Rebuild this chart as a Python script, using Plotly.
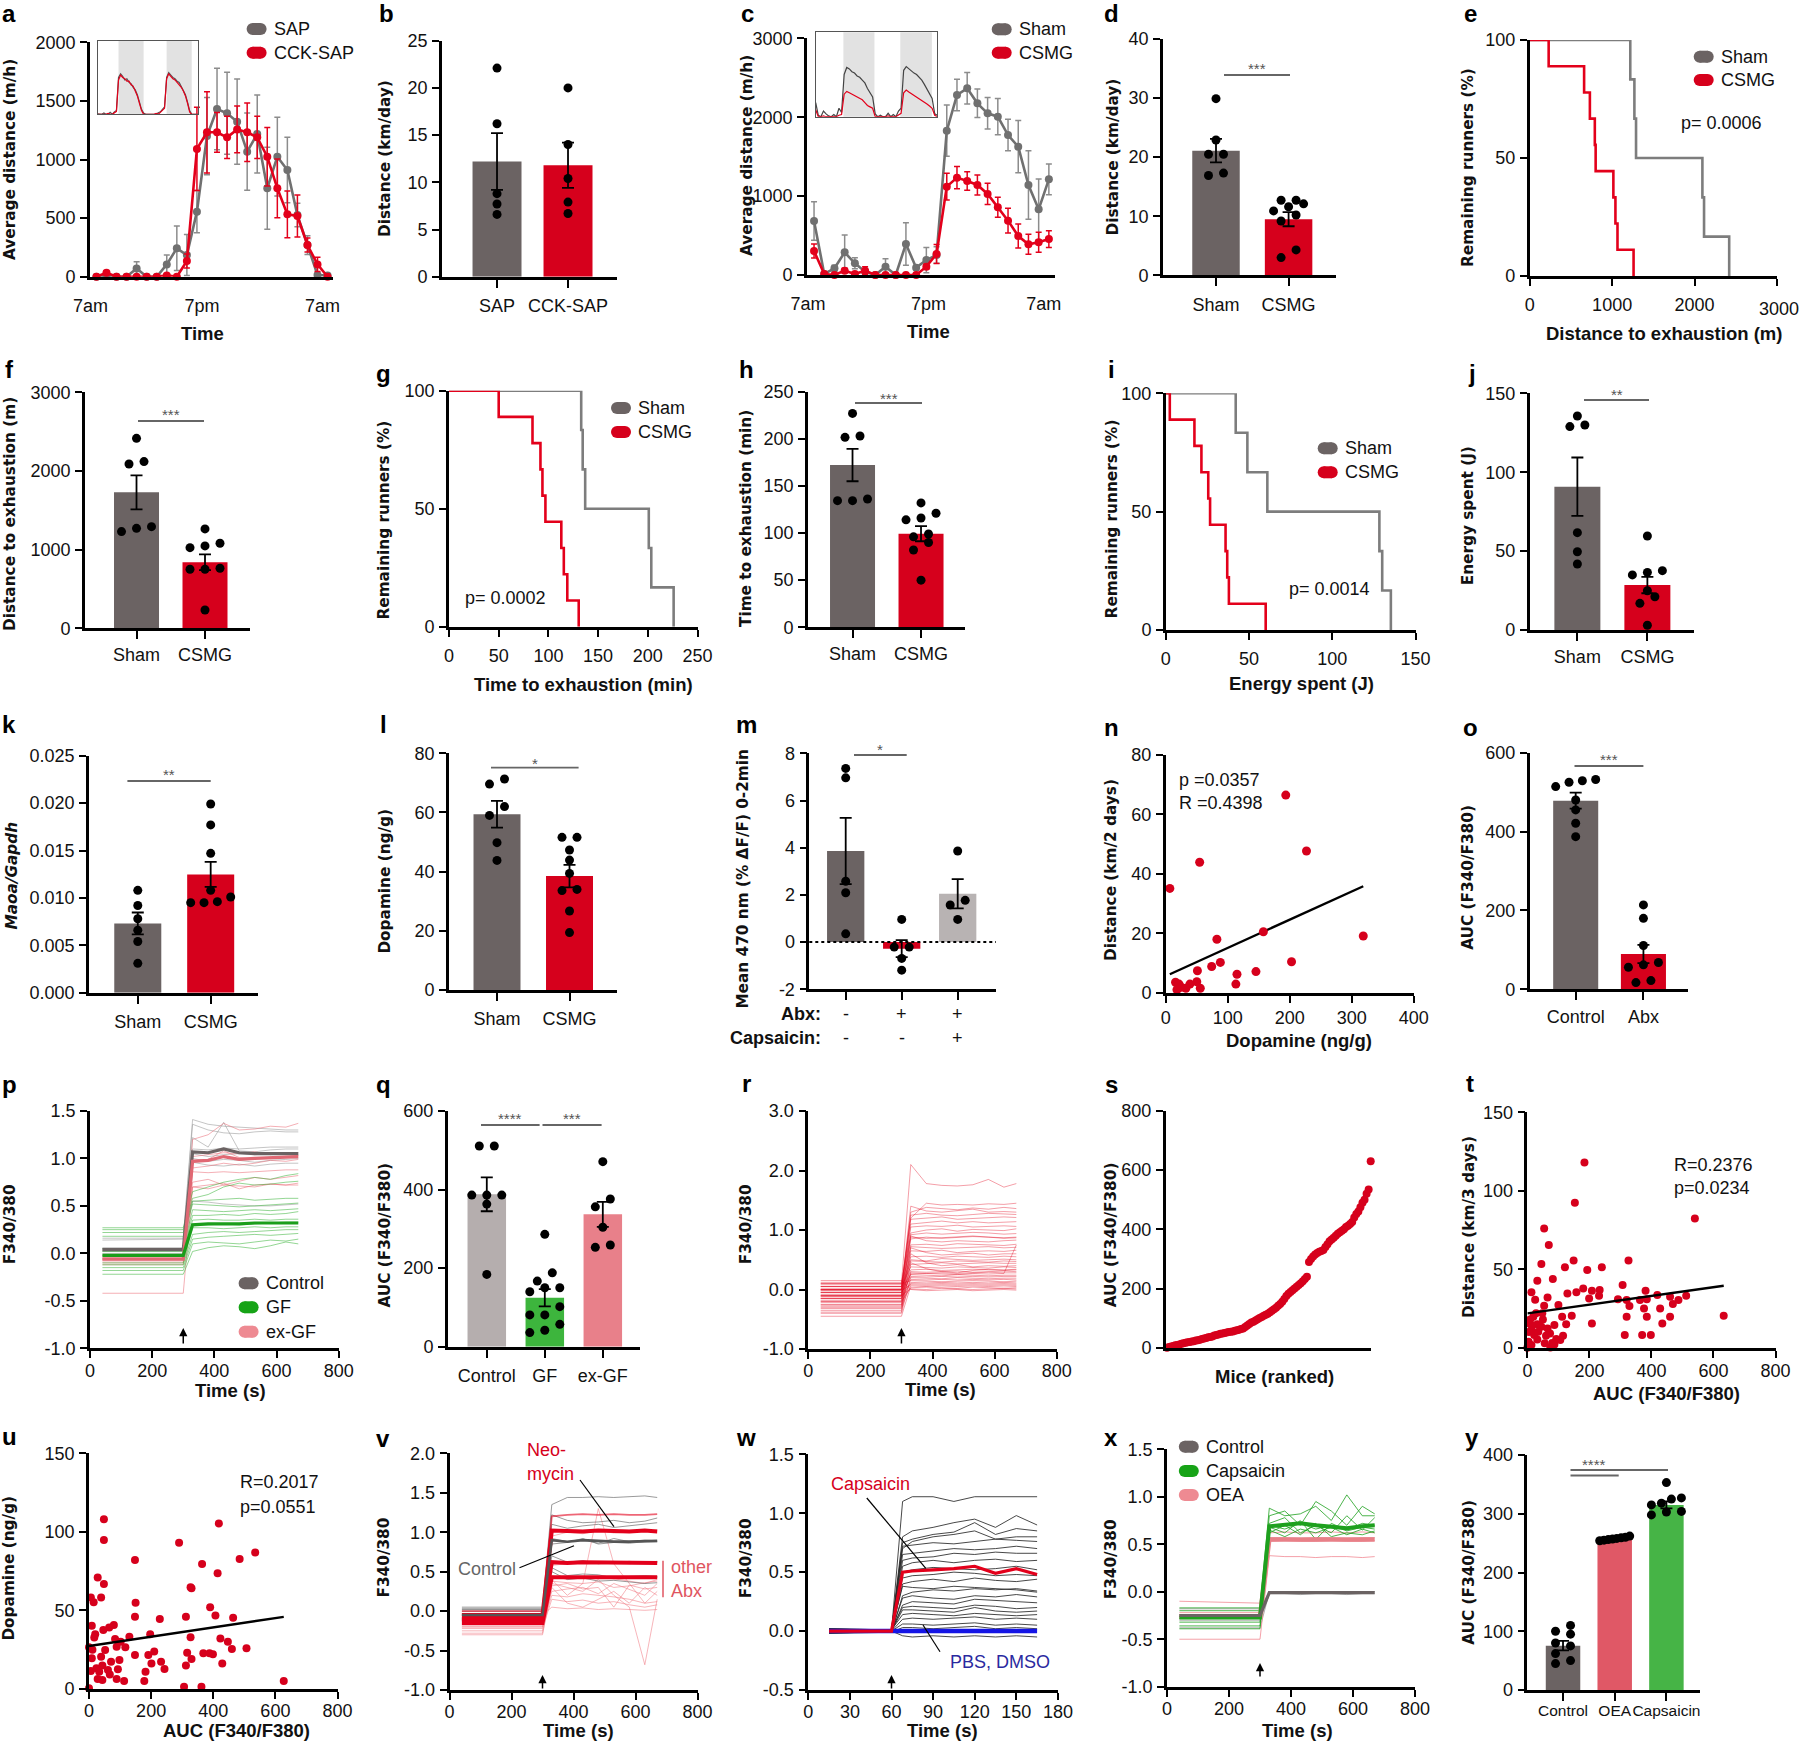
import plotly.graph_objects as go

W, H = 1800, 1742

# ============================ DATA ============================
HOURS = list(range(24))
# (a) SAP vs CCK-SAP hourly distance (m/h)
SAP_MEAN = [0, 5, 0, 0, 71, 0, 0, 105, 242, 185, 555, 1200, 1431, 1394, 1323, 1067, 1218, 754, 1024, 910, 526, 270, 14, 11]
SAP_SEM = [0, 5, 0, 0, 57, 0, 0, 80, 190, 175, 180, 330, 347, 350, 363, 330, 333, 350, 336, 279, 100, 80, 10, 10]
CCK_MEAN = [0, 34, 0, 0, 0, 0, 0, 11, 0, 134, 1090, 1232, 1232, 1189, 1257, 1232, 1189, 1024, 754, 532, 518, 270, 105, 0]
CCK_SEM = [0, 15, 0, 0, 0, 0, 0, 10, 0, 60, 355, 347, 170, 180, 200, 250, 180, 250, 250, 200, 180, 60, 60, 0]
INSET_HOURS_A = list(range(49))
A_INSET_SAP = [20, 0, 0, 50, 0, 0, 80, 0, 100, 150, 1500, 1650, 1550, 1400, 1450, 1300, 1250, 1100, 1000, 800, 500, 200,
               50, 0, 0, 0, 30, 0, 0, 60, 100, 200, 300, 1500, 1700, 1600, 1500, 1450, 1350, 1300, 1150, 1000, 800, 500, 150,
               0, 0, 0, 0]
A_INSET_CCK = [0, 0, 30, 0, 0, 40, 0, 0, 60, 120, 1400, 1600, 1500, 1450, 1350, 1350, 1200, 1150, 950, 750, 450, 150,
               0, 0, 20, 0, 0, 0, 40, 0, 80, 150, 250, 1450, 1650, 1550, 1450, 1400, 1300, 1200, 1100, 950, 750, 450, 100,
               0, 0, 0, 0]
# (b)
B_CATS = ["SAP", "CCK-SAP"]
B_MEAN = [12.2, 11.8]
B_SEM = [3.0, 2.4]
B_DOTS = [[22.1, 16.2, 8.8, 7.7, 6.6], [20.0, 14.0, 10.4, 7.9, 6.7]]
# (c) Sham vs CSMG hourly
SHAM_MEAN = [684, 13, 85, 287, 148, 42, 0, 106, 0, 393, 93, 190, 253, 1829, 2281, 2366, 2176, 2049, 2007, 1774, 1627, 1141, 832, 1212]
SHAM_SEM = [245, 10, 40, 220, 70, 10, 0, 100, 0, 270, 10, 160, 105, 325, 200, 200, 180, 200, 230, 200, 330, 435, 385, 195]
CSMG_MEAN = [304, 13, 0, 55, 13, 55, 0, 0, 0, 0, 0, 106, 266, 1120, 1234, 1191, 1141, 1027, 858, 689, 494, 389, 414, 456]
CSMG_SEM = [90, 5, 0, 30, 10, 50, 0, 0, 0, 0, 0, 30, 120, 170, 140, 118, 127, 135, 127, 156, 152, 127, 127, 106]
INSET_HOURS_C = list(range(48))
C_INSET_SHAM = [500, 50, 0, 200, 100, 30, 0, 80, 0, 300, 150, 1500, 1750, 1700, 1600, 1550, 1450, 1400, 1300, 1200, 1000, 850, 700,
                100, 0, 50, 0, 0, 120, 0, 80, 0, 200, 300, 1650, 1780, 1700, 1600, 1550, 1500, 1400, 1300, 1150, 1000, 800, 650,
                100, 50]
C_INSET_CSMG = [250, 0, 0, 30, 0, 0, 0, 0, 0, 50, 80, 800, 900, 850, 800, 750, 700, 650, 600, 500, 400, 350, 300,
                0, 0, 0, 0, 0, 30, 0, 0, 0, 60, 120, 850, 950, 880, 820, 780, 720, 650, 600, 520, 450, 380, 300,
                50, 0]
SC_CATS = ["Sham", "CSMG"]
# (d)
D_MEAN = [21.1, 9.5]
D_SEM = [2.0, 1.2]
D_DOTS = [[29.9, 22.9, 20.5, 20.5, 17.3, 16.9], [12.7, 12.7, 12.1, 11.6, 10.9, 10.2, 9.2, 4.3, 3.0]]
# (e) distance to exhaustion (m) events
E_SHAM = [1220, 1270, 1290, 2095, 2115, 2420]
E_CSMG = [230, 660, 730, 790, 800, 1015, 1040, 1065, 1260]
# (f)
F_MEAN = [1729, 839]
F_SEM = [216, 100]
F_DOTS = [[2415, 2119, 2089, 1292, 1271, 1229], [1263, 1081, 1047, 1025, 763, 750, 750, 233]]
# (g) time to exhaustion (min) events
G_SHAM = [133, 134.5, 137, 201, 203.5, 226]
G_CSMG = [50, 84, 92, 94, 97, 113, 115.5, 119, 130.5]
# (h)
H_MEAN = [172.2, 99.3]
H_SEM = [17.2, 8.0]
H_DOTS = [[227, 203, 201.6, 136.1, 134.4, 134.4], [132, 121, 116, 114, 99, 96, 90, 82, 50]]
# (i) energy spent (J) events
I_SHAM = [42, 49, 61, 128.3, 130, 135.2]
I_CSMG = [2.4, 17.2, 21.4, 25.5, 26.6, 35.9, 36.9, 37.9, 60]
# (j)
J_MEAN = [90.8, 28.5]
J_SEM = [18.5, 5.2]
J_DOTS = [[135.6, 129.9, 128.9, 61.7, 49.6, 41.8], [59.6, 37.6, 36.5, 34.9, 24.9, 21.1, 16.9, 3.0]]
# (k)
K_MEAN = [0.00731, 0.01248]
K_SEM = [0.00115, 0.00132]
K_DOTS = [[0.0108, 0.0092, 0.0078, 0.0066, 0.0054, 0.0031],
          [0.0199, 0.0177, 0.0147, 0.0108, 0.0101, 0.0096, 0.0095, 0.0095]]
# (l)
L_MEAN = [59.4, 38.5]
L_SEM = [4.5, 3.8]
L_DOTS = [[71.3, 69.6, 62.0, 59.0, 49.8, 43.8], [51.6, 51.6, 47.3, 43.9, 39.4, 34.0, 33.6, 26.7, 19.4]]
# (m)
M_MEAN = [3.86, -0.28, 2.05]
M_SEM = [1.40, 0.36, 0.62]
M_DOTS = [[7.36, 6.96, 2.58, 2.09, 0.35], [0.96, -0.21, -0.21, -0.69, -1.19], [3.86, 1.77, 1.57, 0.96]]
M_ABX = ["-", "+", "+"]
M_CAPS = ["-", "-", "+"]
# (n)
N_DOPA = [6.5, 193.5, 54.6, 226.9, 157.4, 82.4, 318.5, 88, 74, 51, 202.8, 114.8, 145.4, 113, 50, 38.9, 15.7, 21.3, 25, 32.4, 55.6, 18]
N_DIST = [35.1, 66.5, 43.9, 47.7, 20.5, 18.0, 19.1, 10.2, 8.8, 7.4, 10.4, 6.2, 7.1, 2.9, 3.7, 2.9, 3.5, 2.9, 1.8, 1.5, 1.5, 1.0]
N_FIT = (0.0949, 5.6)
# (o)
O_CATS = ["Control", "Abx"]
O_MEAN = [478.3, 89.6]
O_SEM = [20.3, 23.0]
O_DOTS = [[532, 529, 525, 514, 480, 455, 421, 387], [214, 180, 111, 68, 62, 56, 22, 17]]
# calcium imaging time grid
TIME_S = [40, 300, 330, 380, 430, 480, 530, 580, 630, 670]
# (p)
P_CTRL = [[0.16, 0.16, 1.41, 1.36, 1.34, 1.33, 1.32, 1.31, 1.30, 1.30],
          [0.14, 0.15, 1.36, 1.30, 1.27, 1.26, 1.28, 1.29, 1.28, 1.28],
          [0.05, 0.05, 1.22, 1.12, 1.38, 1.08, 1.07, 1.09, 1.10, 1.10],
          [0.04, 0.04, 1.10, 1.09, 1.11, 1.10, 1.11, 1.12, 1.12, 1.12],
          [0.02, 0.03, 1.05, 1.02, 1.04, 1.05, 1.04, 1.05, 1.04, 1.04],
          [0.00, 0.00, 0.96, 0.93, 0.92, 0.94, 0.92, 0.94, 0.95, 0.95],
          [0.06, 0.06, 0.55, 0.54, 0.52, 0.51, 0.50, 0.50, 0.51, 0.52],
          [0.03, 0.03, 1.00, 0.97, 0.99, 0.98, 0.96, 0.98, 0.99, 1.00]]
P_CTRL_MEAN = [0.04, 0.04, 1.07, 1.06, 1.10, 1.06, 1.05, 1.05, 1.05, 1.05]
P_GF = [[0.27, 0.27, 0.65, 0.70, 0.75, 0.78, 0.80, 0.78, 0.82, 0.84],
        [0.25, 0.25, 0.58, 0.62, 0.70, 0.74, 0.72, 0.73, 0.75, 0.76],
        [0.22, 0.22, 0.55, 0.56, 0.57, 0.58, 0.56, 0.57, 0.58, 0.58],
        [0.18, 0.18, 0.52, 0.51, 0.50, 0.49, 0.50, 0.51, 0.52, 0.53],
        [0.05, 0.05, 0.46, 0.45, 0.44, 0.45, 0.46, 0.45, 0.46, 0.47],
        [0.02, 0.02, 0.40, 0.40, 0.41, 0.40, 0.42, 0.41, 0.42, 0.44],
        [-0.02, -0.02, 0.35, 0.36, 0.35, 0.35, 0.36, 0.35, 0.36, 0.36],
        [-0.06, -0.06, 0.30, 0.30, 0.31, 0.30, 0.31, 0.32, 0.33, 0.33],
        [-0.10, -0.10, 0.27, 0.27, 0.26, 0.27, 0.28, 0.27, 0.28, 0.28],
        [-0.12, -0.12, 0.20, 0.22, 0.23, 0.22, 0.23, 0.24, 0.25, 0.25],
        [-0.15, -0.15, 0.15, 0.17, 0.18, 0.19, 0.20, 0.19, 0.20, 0.21],
        [-0.18, -0.18, 0.10, 0.12, 0.11, 0.10, 0.12, 0.14, 0.13, 0.15],
        [-0.22, -0.22, 0.02, 0.06, 0.08, 0.07, 0.05, 0.08, 0.12, 0.10]]
P_GF_MEAN = [-0.02, -0.02, 0.30, 0.31, 0.31, 0.31, 0.32, 0.32, 0.32, 0.32]
P_EXGF = [[-0.02, -0.02, 1.20, 1.25, 1.37, 1.30, 1.31, 1.34, 1.33, 1.37],
          [-0.04, -0.04, 1.02, 1.04, 1.06, 1.05, 1.07, 1.04, 1.06, 1.06],
          [-0.05, -0.06, 0.98, 0.99, 1.08, 1.01, 1.00, 1.01, 1.02, 1.03],
          [-0.08, -0.08, 0.90, 0.92, 0.95, 0.93, 0.95, 0.98, 0.97, 0.99],
          [-0.10, -0.10, 0.86, 0.85, 0.86, 0.85, 0.86, 0.87, 0.88, 0.88],
          [-0.06, -0.06, 0.75, 0.78, 0.72, 0.76, 0.80, 0.78, 0.80, 0.82],
          [-0.12, -0.12, 0.70, 0.72, 0.74, 0.68, 0.72, 0.73, 0.72, 0.72],
          [-0.42, -0.42, 0.70, 0.68, 0.72, 0.71, 0.70, 0.73, 0.72, 0.74]]
P_EXGF_MEAN = [-0.06, -0.06, 0.97, 0.98, 1.02, 0.99, 1.00, 1.01, 1.02, 1.02]
# (q)
Q_CATS = ["Control", "GF", "ex-GF"]
Q_MEAN = [387.8, 124.8, 336.9]
Q_SEM = [43, 22, 32]
Q_DOTS = [[511, 511, 386, 386, 386, 363, 184], [286, 188, 167, 150, 150, 140, 102, 81, 81, 57, 42, 36],
          [471, 376, 356, 304, 259, 253]]
# (r)
R_LINES = [[0.10, 0.10, 2.10, 1.78, 1.75, 1.74, 1.76, 1.85, 1.72, 1.78],
           [0.05, 0.05, 1.20, 1.45, 1.42, 1.43, 1.42, 1.44, 1.43, 1.45],
           [0.02, 0.02, 1.30, 1.38, 1.36, 1.34, 1.37, 1.35, 1.38, 1.36],
           [0.00, 0.00, 1.40, 1.32, 1.30, 1.33, 1.35, 1.30, 1.31, 1.30],
           [-0.05, -0.05, 1.25, 1.28, 1.25, 1.24, 1.26, 1.28, 1.27, 1.26],
           [0.08, 0.08, 1.18, 1.20, 1.22, 1.18, 1.19, 1.20, 1.22, 1.21],
           [-0.10, -0.10, 1.10, 1.12, 1.15, 1.12, 1.14, 1.12, 1.13, 1.14],
           [0.00, 0.00, 1.05, 1.07, 1.06, 1.08, 1.05, 1.06, 1.07, 1.06],
           [-0.15, -0.15, 0.95, 1.00, 1.02, 0.98, 1.01, 1.00, 0.99, 1.02],
           [0.12, 0.12, 0.92, 0.95, 0.93, 0.94, 0.96, 0.95, 0.93, 0.94],
           [-0.20, -0.20, 0.85, 0.88, 0.86, 0.87, 0.89, 0.88, 0.86, 0.87],
           [-0.05, -0.05, 0.90, 0.82, 0.80, 0.82, 0.81, 0.80, 0.82, 0.83],
           [-0.25, -0.25, 0.75, 0.76, 0.74, 0.77, 0.76, 0.75, 0.74, 0.76],
           [0.05, 0.05, 0.72, 0.70, 0.69, 0.70, 0.71, 0.72, 0.70, 0.71],
           [-0.10, -0.10, 0.65, 0.64, 0.66, 0.62, 0.64, 0.65, 0.64, 0.66],
           [-0.30, -0.30, 0.70, 0.62, 0.58, 0.60, 0.61, 0.58, 0.60, 0.60],
           [0.00, 0.00, 0.55, 0.56, 0.54, 0.56, 0.55, 0.54, 0.56, 0.55],
           [-0.12, -0.12, 0.50, 0.48, 0.52, 0.50, 0.49, 0.50, 0.51, 0.50],
           [-0.18, -0.18, 0.42, 0.44, 0.45, 0.43, 0.44, 0.45, 0.44, 0.44],
           [-0.35, -0.35, 0.60, 0.45, 0.40, 0.42, 0.38, 0.40, 0.39, 0.40],
           [0.05, 0.05, 0.38, 0.37, 0.36, 0.38, 0.37, 0.36, 0.38, 0.37],
           [-0.08, -0.08, 0.33, 0.34, 0.32, 0.33, 0.34, 0.33, 0.32, 0.33],
           [-0.22, -0.22, 0.30, 0.29, 0.30, 0.31, 0.29, 0.30, 0.31, 0.30],
           [-0.15, -0.15, 0.26, 0.27, 0.26, 0.25, 0.27, 0.26, 0.27, 0.75],
           [0.00, 0.00, 0.25, 0.24, 0.23, 0.25, 0.24, 0.23, 0.24, 0.24],
           [-0.40, -0.40, 0.22, 0.21, 0.22, 0.21, 0.22, 0.21, 0.22, 0.22],
           [-0.05, -0.05, 0.20, 0.19, 0.18, 0.20, 0.19, 0.18, 0.19, 0.19],
           [-0.28, -0.28, 0.17, 0.16, 0.17, 0.16, 0.17, 0.16, 0.17, 0.16],
           [0.10, 0.10, 0.15, 0.14, 0.13, 0.14, 0.15, 0.14, 0.13, 0.14],
           [-0.15, -0.15, 0.12, 0.11, 0.12, 0.11, 0.12, 0.11, 0.12, 0.11],
           [-0.32, -0.32, 0.10, 0.09, 0.10, 0.09, 0.10, 0.09, 0.10, 0.09],
           [-0.02, -0.02, 0.08, 0.07, 0.08, 0.07, 0.08, 0.07, 0.08, 0.07],
           [-0.45, -0.45, 0.06, 0.05, 0.06, 0.05, 0.06, 0.05, 0.06, 0.05],
           [-0.20, -0.20, 0.03, 0.04, 0.03, 0.02, 0.04, 0.03, 0.02, 0.03],
           [-0.10, -0.10, 0.01, 0.00, 0.02, 0.01, 0.00, 0.01, 0.02, 0.01],
           [0.15, 0.15, 0.00, -0.02, -0.01, 0.00, -0.02, -0.01, 0.00, -0.01],
           [-0.38, -0.38, 0.45, 0.35, 0.30, 0.28, 0.32, 0.34, 0.33, 0.34],
           [-0.02, -0.02, 0.48, 0.47, 0.46, 0.48, 0.47, 0.46, 0.48, 0.47],
           [-0.12, -0.12, 0.88, 0.86, 0.87, 0.88, 0.90, 0.88, 0.87, 0.88],
           [-0.26, -0.26, 0.28, 0.27, 0.28, 0.27, 0.28, 0.29, 0.28, 0.28]]
# (s) ranked AUC
S_AUC = [0, 2, 4, 6, 8, 9, 11, 13, 15, 17, 18, 19, 21, 22, 24, 25, 27, 29, 31, 33, 35, 36, 38, 41, 43, 45, 47, 48,
         50, 51, 53, 54, 55, 57, 59, 61, 63, 65, 70, 75, 80, 85, 88, 92, 96, 100, 104, 108, 111, 115, 120, 125, 130,
         135, 142, 148, 155, 165, 175, 182, 188, 194, 200, 206, 212, 218, 225, 232, 240, 290, 300, 308, 315, 320, 324,
         327, 330, 340, 350, 360, 366, 372, 378, 385, 390, 395, 400, 408, 412, 418, 425, 440, 452, 460, 475, 490, 500,
         520, 535, 630]
# (t)
T_AUC = [184, 153, 540, 54, 69, 326, 149, 45, 121, 240, 193, 32, 82, 307, 65, 13, 129, 158, 180, 208, 233, 199, 231,
         292, 320, 363, 381, 385, 419, 460, 487, 512, 469, 428, 376, 329, 320, 385, 460, 435, 208, 314, 370, 398, 633,
         54, 100, 143, 112, 125, 115, 93, 87, 56, 32, 22, 0, 4, 13, 7, 19, 32, 45, 65, 87, 35, 60, 13, 74, 28, 9, 50,
         73, 106, 25, 5, 48, 80, 15]
T_DIST = [118, 92.4, 82.4, 76, 65.4, 55.5, 55.5, 53.3, 51.2, 51.2, 49.5, 42.7, 43.8, 40, 32, 35.3, 34.6, 35.3, 37.8,
          36.3, 36.8, 31.4, 33.1, 30.8, 30.4, 30.4, 36.3, 30.8, 33.6, 32.5, 30.4, 33.1, 27.8, 25, 25, 26.6, 19.8, 19.8,
          19.8, 15.5, 15.5, 8.1, 8.1, 8.1, 20.4, 26.8, 27.2, 20.4, 19.8, 14.9, 7.6, 5.5, 2.1, 2.8, 5.3, 8.1, 0, 3.8,
          11.3, 15.5, 19.8, 15, 13.4, 12.3, 14.4, 10.2, 7.6, 1.7, 0.2, 21.9, 18, 18, 9.1, 4.9, 30.5, 10, 22, 3, 14]
T_FIT = (0.0277, 21.9)
# (u)
U_AUC = [48, 48, 418, 290, 535, 485, 148, 364, 414, 28, 48, 327, 330, 6, 39, 15, 150, 390, 148, 312, 228, 464, 407, 9,
         80, 65, 46, 20, 197, 327, 423, 447, 17, 84, 130, 102, 117, 0, 11, 52, 89, 210, 316, 368, 388, 399, 460, 507,
         9, 39, 71, 98, 148, 191, 232, 330, 201, 312, 243, 429, 24, 43, 61, 93, 28, 43, 89, 113, 182, 178, 306, 362,
         627, 0, 33, 67, 6]
U_DOPA = [108, 94.8, 105.4, 93.1, 86.8, 82.7, 82.1, 79.6, 73.6, 70.9, 66.8, 64.7, 64.1, 58.3, 58.3, 55.2, 54.9, 52,
          46, 46, 44.6, 45.4, 46.7, 40.3, 40.7, 39.2, 37.6, 34.8, 34.8, 32.9, 32.2, 30.1, 32.7, 31.8, 33.3, 30.1, 26.5,
          26.5, 25, 24.8, 26.9, 23.8, 23.1, 22.7, 22.7, 22.1, 25.5, 25.9, 19.5, 20.6, 17.4, 18.5, 21.6, 21.6, 17.4,
          19.1, 16.3, 14.9, 12.7, 16.3, 13.2, 14.9, 12.1, 12.5, 6.4, 5.7, 6.4, 5.1, 11, 5.1, 1.5, 1.5, 5.1, 0.4, 11,
          9.3, 11.5]
U_FIT = (0.0295, 27.4)
# (v)
V_PINK = [[-0.20, -0.20, 0.35, 0.30, 0.25, 0.40, 0.20, 0.05, -0.68, 0.15],
          [-0.25, -0.25, 0.40, 0.20, 0.35, 1.30, 0.60, 0.35, 0.10, 0.25],
          [-0.30, -0.30, 0.30, 0.10, 0.05, 0.15, 0.25, 0.10, 0.30, 0.20],
          [-0.12, -0.12, 0.25, 0.28, 0.30, 0.22, 0.35, 0.28, 0.20, 0.35],
          [-0.18, -0.18, 0.20, 0.18, 0.22, 0.20, 0.18, 0.15, 0.10, 0.12],
          [-0.08, -0.08, 0.38, 0.36, 0.35, 0.37, 0.30, 0.32, 0.36, 0.38],
          [-0.22, -0.22, 0.15, 0.12, 0.14, 0.10, 0.12, 0.08, 0.05, 0.08],
          [-0.05, -0.05, 0.05, 0.03, 0.04, 0.02, 0.03, 0.02, 0.01, 0.02],
          [-0.28, -0.28, 0.32, 0.35, 0.28, 0.30, 0.05, 0.33, 0.28, 0.30],
          [-0.15, -0.15, 0.58, 0.60, 0.63, 0.61, 0.62, 0.60, 0.62, 0.63],
          [-0.10, -0.10, 0.95, 1.00, 0.98, 1.02, 0.99, 1.00, 1.01, 1.03],
          [-0.20, -0.20, 0.45, 0.40, 0.42, 0.44, 0.41, 0.38, 0.35, 0.40]]
V_GRAY = [[0.05, 0.05, 1.35, 1.44, 1.44, 1.45, 1.44, 1.45, 1.46, 1.44],
          [0.02, 0.02, 1.22, 1.15, 1.12, 1.13, 1.15, 1.12, 1.14, 1.18],
          [0.00, 0.00, 1.10, 1.05, 1.08, 1.10, 1.06, 1.08, 1.10, 1.12],
          [-0.03, -0.03, 0.92, 0.88, 0.90, 0.86, 0.92, 0.88, 0.90, 0.89],
          [-0.05, -0.05, 0.85, 0.87, 0.92, 0.85, 0.87, 0.86, 0.88, 0.88],
          [-0.08, -0.08, 0.70, 0.62, 0.64, 0.60, 0.62, 0.63, 0.62, 0.63],
          [-0.10, -0.10, 0.55, 0.45, 0.47, 0.46, 0.42, 0.44, 0.45, 0.44],
          [0.03, 0.03, 0.50, 0.40, 0.42, 0.38, 0.39, 0.37, 0.35, 0.36]]
V_GRAY_MID = [[-0.10, -0.10, 0.62, 0.61, 0.62, 0.61, 0.62, 0.61, 0.62, 0.62],
              [-0.12, -0.12, 0.43, 0.42, 0.43, 0.42, 0.43, 0.42, 0.43, 0.43]]
V_RED = [[-0.05, -0.05, 1.02, 1.01, 1.01, 1.02, 1.01, 1.01, 1.02, 1.01],
         [-0.10, -0.10, 0.62, 0.61, 0.62, 0.62, 0.61, 0.62, 0.62, 0.61],
         [-0.15, -0.15, 0.43, 0.43, 0.44, 0.43, 0.43, 0.44, 0.43, 0.43]]
V_RED_MID = [0.00, 0.00, 1.20, 1.22, 1.23, 1.22, 1.23, 1.22, 1.22, 1.23]
V_CTRL = [-0.05, -0.05, 0.90, 0.88, 0.90, 0.89, 0.88, 0.88, 0.89, 0.89]
# (w)
TIME_W = [15, 60, 68, 75, 90, 105, 120, 135, 150, 165]
W_LINES = [[0.01, 0.00, 1.10, 1.14, 1.14, 1.10, 1.14, 1.14, 1.14, 1.14],
           [0.02, 0.01, 0.80, 0.85, 0.88, 0.92, 0.95, 0.88, 0.98, 0.90],
           [-0.01, 0.00, 0.75, 0.78, 0.82, 0.84, 0.92, 0.82, 0.87, 0.85],
           [0.00, 0.01, 0.70, 0.76, 0.80, 0.82, 0.85, 0.78, 0.80, 0.80],
           [0.01, 0.00, 0.72, 0.73, 0.75, 0.74, 0.76, 0.78, 0.77, 0.76],
           [-0.02, -0.01, 0.65, 0.66, 0.68, 0.70, 0.69, 0.70, 0.72, 0.70],
           [0.00, 0.00, 0.60, 0.62, 0.63, 0.66, 0.65, 0.67, 0.66, 0.66],
           [0.01, 0.01, 0.55, 0.58, 0.60, 0.58, 0.60, 0.61, 0.59, 0.60],
           [0.00, -0.01, 0.50, 0.52, 0.54, 0.53, 0.52, 0.53, 0.55, 0.52],
           [-0.01, 0.00, 0.45, 0.47, 0.48, 0.50, 0.49, 0.47, 0.48, 0.47],
           [0.02, 0.00, 0.40, 0.42, 0.44, 0.42, 0.45, 0.43, 0.42, 0.44],
           [0.00, 0.01, 0.38, 0.37, 0.36, 0.38, 0.37, 0.36, 0.35, 0.33],
           [-0.01, -0.01, 0.30, 0.33, 0.35, 0.34, 0.36, 0.35, 0.36, 0.34],
           [0.01, 0.00, 0.28, 0.30, 0.28, 0.27, 0.30, 0.29, 0.31, 0.29],
           [0.00, 0.00, 0.22, 0.25, 0.24, 0.23, 0.27, 0.26, 0.25, 0.24],
           [0.02, 0.01, 0.20, 0.21, 0.20, 0.19, 0.22, 0.21, 0.19, 0.20],
           [-0.02, 0.00, 0.18, 0.18, 0.17, 0.16, 0.20, 0.17, 0.16, 0.17],
           [0.00, 0.01, 0.14, 0.15, 0.14, 0.13, 0.15, 0.14, 0.13, 0.14],
           [0.01, 0.00, 0.10, 0.11, 0.10, 0.11, 0.12, 0.10, 0.11, 0.10],
           [-0.01, 0.00, 0.06, 0.06, 0.05, 0.06, 0.07, 0.05, 0.06, 0.05],
           [0.00, -0.01, 0.03, 0.03, 0.02, 0.03, 0.04, 0.02, 0.03, 0.02],
           [0.01, 0.00, -0.04, -0.05, -0.04, -0.05, -0.04, -0.05, -0.04, -0.05]]
W_CAPS = [0.00, 0.00, 0.50, 0.51, 0.52, 0.53, 0.55, 0.49, 0.53, 0.48]
W_PBS = [0.00, 0.00, 0.00, 0.00, 0.00, 0.00, 0.00, 0.00, 0.00, 0.00]
# (x)
X_CTRL = [[-0.18, -0.18, 0.00, -0.01, 0.00, -0.01, 0.00, 0.00, -0.01, 0.00],
          [-0.30, -0.30, -0.02, -0.02, -0.03, -0.02, -0.02, -0.03, -0.02, -0.02],
          [-0.38, -0.38, -0.01, 0.00, -0.01, 0.00, -0.01, 0.00, -0.01, 0.00]]
X_CTRL_MEAN = [-0.25, -0.25, -0.01, -0.01, -0.01, -0.01, -0.01, -0.01, -0.01, -0.01]
X_CAPS = [[-0.17, -0.17, 0.88, 0.80, 0.82, 0.90, 0.75, 1.02, 0.80, 0.80],
          [-0.20, -0.20, 0.80, 0.85, 0.70, 0.95, 0.85, 0.70, 0.90, 0.82],
          [-0.24, -0.24, 0.72, 0.78, 0.62, 0.70, 0.62, 0.80, 0.65, 0.78],
          [-0.28, -0.28, 0.68, 0.62, 0.75, 0.55, 0.72, 0.65, 0.72, 0.70],
          [-0.32, -0.32, 0.62, 0.70, 0.60, 0.72, 0.58, 0.62, 0.60, 0.64],
          [-0.36, -0.36, 0.65, 0.58, 0.66, 0.62, 0.68, 0.60, 0.66, 0.62],
          [-0.39, -0.39, 0.70, 0.66, 0.72, 0.66, 0.70, 0.64, 0.68, 0.66]]
X_CAPS_MEAN = [-0.27, -0.27, 0.69, 0.70, 0.72, 0.70, 0.68, 0.67, 0.69, 0.70]
X_OEA = [[-0.10, -0.12, 0.62, 0.63, 0.62, 0.62, 0.63, 0.62, 0.63, 0.62],
         [-0.50, -0.50, 0.38, 0.37, 0.37, 0.36, 0.37, 0.37, 0.36, 0.37],
         [-0.22, -0.22, 0.57, 0.57, 0.56, 0.57, 0.57, 0.56, 0.57, 0.57],
         [-0.28, -0.28, 0.53, 0.54, 0.53, 0.53, 0.54, 0.53, 0.53, 0.54]]
X_OEA_MEAN = [-0.26, -0.26, 0.55, 0.55, 0.56, 0.55, 0.55, 0.55, 0.55, 0.55]
# (y)
Y_CATS = ["Control", "OEA", "Capsaicin"]
Y_MEAN = [75.5, 259.3, 315.0]
Y_SEM = [8, 1.5, 6]
Y_DOTS = [[110, 100, 95, 80, 75, 62, 50, 45], [262, 260, 259, 258, 257, 256, 255, 254],
          [353, 327, 325, 318, 315, 304, 303, 298]]

# ============================ STYLE ============================
SANS = "Liberation Sans, Arial, Helvetica, sans-serif"
WIDE = "DejaVu Sans, Verdana, sans-serif"
TICKF = dict(family=SANS, size=18, color='#111')
DGRAY = '#6b6363'
LGRAY = '#b8b3b3'
RED = '#d6001c'
LRED = '#e3001b'
GREEN = '#3db53d'
PINK = '#e8808a'
LINEGRAY = '#707070'

fig = go.Figure()
L = dict(width=W, height=H, autosize=False,
         margin=dict(l=0, r=0, t=0, b=0, pad=0, autoexpand=False), paper_bgcolor='white',
         plot_bgcolor='rgba(0,0,0,0)', showlegend=False)
shapes, annots = [], []
AXN = [0]


def make_axes(x0, x1, ytop, ybot, xr, yr, xt=None, xtt=None, yt=None, ytt=None,
              xticks='outside', xstand=3, ystand=1, box=False, xticklen=7, xfont=None):
    AXN[0] += 1
    n = AXN[0]
    s = '' if n == 1 else str(n)
    base = dict(showgrid=False, zeroline=False, fixedrange=True, linecolor='black', automargin=False,
                tickangle=0, tickcolor='black', tickwidth=2, tickfont=TICKF, layer='above traces')
    xa = dict(base, domain=[x0 / W, x1 / W], range=xr, anchor='y' + s, showline=True,
              linewidth=2.6, ticks=xticks, ticklen=xticklen)
    if xfont is not None:
        xa['tickfont'] = xfont
    ya = dict(base, domain=[1 - ybot / H, 1 - ytop / H], range=yr, anchor='x' + s, showline=True,
              linewidth=2.6, ticks='outside', ticklen=7)
    if xt is None:
        xa.update(showticklabels=False, ticks='')
    else:
        xa.update(tickmode='array', tickvals=xt,
                  ticktext=xtt if xtt is not None else [str(v) for v in xt], ticklabelstandoff=xstand)
    if yt is None:
        ya.update(showticklabels=False, ticks='')
    else:
        ya.update(tickmode='array', tickvals=yt,
                  ticktext=ytt if ytt is not None else [str(v) for v in yt], ticklabelstandoff=ystand)
    if box:
        for a in (xa, ya):
            a.update(mirror=True, linewidth=1.3, linecolor='#555', showticklabels=False, ticks='')
    L['xaxis' + s] = xa
    L['yaxis' + s] = ya
    return 'x' + s, 'y' + s


def txt(x, y, s, size=18, color='#111', family=SANS, xanchor='center', angle=0):
    annots.append(dict(x=x / W, y=1 - y / H, xref='paper', yref='paper', text=s, showarrow=False,
                       xanchor=xanchor, yanchor='middle', textangle=angle,
                       font=dict(family=family, size=size, color=color)))


def ytitle(x, y, s, size=15.3):
    txt(x, y, '<b>' + s + '</b>', size=size, family=WIDE, angle=-90)


def xtitle(x, y, s):
    txt(x, y, '<b>' + s + '</b>', size=18.5)


def seg(x0, y0, x1, y1, color='#555', width=1.8, dash=None):
    d = dict(type='line', xref='paper', yref='paper', x0=x0 / W, x1=x1 / W, y0=1 - y0 / H, y1=1 - y1 / H,
             line=dict(color=color, width=width))
    if dash:
        d['line']['dash'] = dash
    shapes.append(d)


def sig(x0, x1, y, text, ty):
    seg(x0, y, x1, y, color='#666', width=1.8)
    txt((x0 + x1) / 2, ty + 3, text, size=15, color='#555')


def swatch(cx, cy, color, text):
    r = 6
    shapes.append(dict(type='rect', xref='paper', yref='paper', x0=(cx - 4) / W, x1=(cx + 4) / W,
                       y0=1 - (cy + r) / H, y1=1 - (cy - r) / H, fillcolor=color, line_width=0))
    for ex in (cx - 4, cx + 4):
        shapes.append(dict(type='circle', xref='paper', yref='paper', x0=(ex - r) / W, x1=(ex + r) / W,
                           y0=1 - (cy + r) / H, y1=1 - (cy - r) / H, fillcolor=color, line_width=0))
    txt(cx + 15, cy, text, xanchor='left')


def arrow(xa, xval, yhead, ytail):
    annots.append(dict(x=xval, y=1 - yhead / H, xref=xa, yref='paper', ax=0, ay=ytail - yhead, text='',
                       showarrow=True, arrowhead=2, arrowsize=1.1, arrowwidth=1.5, arrowcolor='black'))


def swarm(vals, ypu, sp=15.0, maxw=40.0, thr=9.0):
    order = sorted(range(len(vals)), key=lambda i: vals[i])
    rows = []
    for i in order:
        y = vals[i] * ypu
        if rows and abs(y - rows[-1][0]) < thr:
            rows[-1][1].append(i)
        else:
            rows.append([y, [i]])
    offs = [0.0] * len(vals)
    for _, idxs in rows:
        k = len(idxs)
        s = sp if k == 1 else min(sp, maxw / (k - 1))
        for j, i in enumerate(idxs):
            offs[i] = (j - (k - 1) / 2) * s
    return offs


def bar_panel(x0, x1, ytop, ybot, yr, yt, ytt, cats, means, sems, colors, dots, xr, bw, xstand=3, maxw=40,
              xfont=None):
    xs = list(range(len(means)))
    xa, ya = make_axes(x0, x1, ytop, ybot, xr, yr, xt=xs, xtt=cats, yt=yt, ytt=ytt, xstand=xstand, xticklen=8,
                       xfont=xfont)
    fig.add_trace(go.Bar(x=xs, y=means, width=bw, marker=dict(color=colors, line_width=0),
                         error_y=dict(type='data', array=sems, color='black', thickness=1.8, width=6),
                         xaxis=xa, yaxis=ya, hoverinfo='skip'))
    ypu = (ybot - ytop) / (yr[1] - yr[0])
    xpu = (x1 - x0) / (xr[1] - xr[0])
    for i, vals in enumerate(dots):
        offs = swarm(vals, ypu, maxw=maxw)
        fig.add_trace(go.Scatter(x=[i + o / xpu for o in offs], y=vals, mode='markers',
                                 marker=dict(color='black', size=9), xaxis=xa, yaxis=ya,
                                 cliponaxis=False, hoverinfo='skip'))
    return xa, ya


def series(xa, ya, x, mean, sem, color, ecolor):
    fig.add_trace(go.Scatter(x=x, y=mean, mode='lines+markers', line=dict(color=color, width=2.6),
                             marker=dict(color=color, size=8),
                             error_y=dict(type='data', array=sem, color=ecolor, thickness=1.5, width=3),
                             xaxis=xa, yaxis=ya, cliponaxis=False, hoverinfo='skip'))


def km(xa, ya, times, color):
    t = sorted(times)
    n = len(t)
    xs = [0] + t
    ys = [100] + [100 * (n - i - 1) / n for i in range(n)]
    fig.add_trace(go.Scatter(x=xs, y=ys, mode='lines', line=dict(color=color, width=2.6, shape='hv'),
                             xaxis=xa, yaxis=ya, cliponaxis=False, hoverinfo='skip'))


def lines(xa, ya, t, data, color, width=1.0):
    for ln in data:
        fig.add_trace(go.Scatter(x=t, y=ln, mode='lines', line=dict(color=color, width=width),
                                 xaxis=xa, yaxis=ya, hoverinfo='skip'))


def fmt1(vals):
    return [f"{v:.1f}" for v in vals]


def fitline(xa, ya, xvals, fit):
    lo, hi = min(xvals), max(xvals)
    fig.add_trace(go.Scatter(x=[lo, hi], y=[fit[0] * lo + fit[1], fit[0] * hi + fit[1]], mode='lines',
                             line=dict(color='black', width=2.4), xaxis=xa, yaxis=ya, hoverinfo='skip'))


# ============================ ROW 1 ============================
xa, ya = make_axes(90, 333, 42.3, 276.7, [-0.64, 23.54], [0, 2000], xt=[-0.6, 10.5, 22.5],
                   xtt=['7am', '7pm', '7am'], xticks='', xstand=11, yt=[0, 500, 1000, 1500, 2000])
series(xa, ya, HOURS, SAP_MEAN, SAP_SEM, LINEGRAY, '#8c8c8c')
series(xa, ya, HOURS, CCK_MEAN, CCK_SEM, LRED, LRED)
ia, ib = make_axes(97.6, 198, 40.7, 114.3, [0, 48], [0, 3000], box=True)
for b0, b1 in ((10, 22), (33, 45)):
    shapes.append(dict(type='rect', xref=ia, yref=ib + ' domain', x0=b0, x1=b1, y0=0, y1=1,
                       fillcolor='#e2e2e2', line_width=0, layer='below'))
lines(ia, ib, INSET_HOURS_A, [A_INSET_SAP], '#555555', 1.2)
lines(ia, ib, INSET_HOURS_A, [A_INSET_CCK], LRED, 1.2)
swatch(256.6, 29, DGRAY, 'SAP')
swatch(256.6, 52.7, RED, 'CCK-SAP')
ytitle(10, 160, 'Average distance (m/h)')
xtitle(202, 333, 'Time')

bar_panel(442, 617, 40.7, 276.7, [0, 25], [0, 5, 10, 15, 20, 25], None, B_CATS, B_MEAN, B_SEM,
          [DGRAY, RED], B_DOTS, [-0.775, 1.69], 0.69)
ytitle(385, 159, 'Distance (km/day)')

xa, ya = make_axes(807, 1055, 38.3, 275, [-0.69, 23.6], [0, 3000], xt=[-0.6, 11.2, 22.5],
                   xtt=['7am', '7pm', '7am'], xticks='', xstand=11, yt=[0, 1000, 2000, 3000])
series(xa, ya, HOURS, SHAM_MEAN, SHAM_SEM, LINEGRAY, '#8c8c8c')
series(xa, ya, HOURS, CSMG_MEAN, CSMG_SEM, LRED, LRED)
ia, ib = make_axes(815.7, 937.3, 32.3, 116.7, [0, 47], [0, 3000], box=True)
for b0, b1 in ((10.7, 22.7), (32.7, 44.9)):
    shapes.append(dict(type='rect', xref=ia, yref=ib + ' domain', x0=b0, x1=b1, y0=0, y1=1,
                       fillcolor='#e2e2e2', line_width=0, layer='below'))
lines(ia, ib, INSET_HOURS_C, [C_INSET_SHAM], '#444444', 1.2)
lines(ia, ib, INSET_HOURS_C, [C_INSET_CSMG], LRED, 1.2)
swatch(1001.7, 29.3, DGRAY, 'Sham')
swatch(1001.7, 52.7, RED, 'CSMG')
ytitle(747, 156, 'Average distance (m/h)')
xtitle(928, 331, 'Time')

bar_panel(1163, 1336, 39, 275.3, [0, 40], [0, 10, 20, 30, 40], None, SC_CATS, D_MEAN, D_SEM,
          [DGRAY, RED], D_DOTS, [-0.73, 1.653], 0.654)
sig(1224, 1290, 75, '***', 66)
ytitle(1112, 157.5, 'Distance (km/day)')

xa, ya = make_axes(1529.7, 1777, 40, 276, [0, 3000], [0, 100], xt=[0, 1000, 2000, 3000],
                   xtt=['0', '1000', '2000', ''], yt=[0, 50, 100], xstand=4)
km(xa, ya, E_SHAM, '#7d7d7d')
km(xa, ya, E_CSMG, LRED)
txt(1779, 309, '3000')
txt(1721, 123, 'p= 0.0006')
swatch(1703.7, 56.7, DGRAY, 'Sham')
swatch(1703.7, 80, RED, 'CSMG')
ytitle(1468, 168, 'Remaining runners (%)')
xtitle(1663.5, 333, 'Distance to exhaustion (m)')

# ============================ ROW 2 ============================
bar_panel(85, 250, 392.3, 628.3, [0, 3000], [0, 1000, 2000, 3000], None, SC_CATS, F_MEAN, F_SEM,
          [DGRAY, RED], F_DOTS, [-0.752, 1.657], 0.657, xstand=0)
sig(138, 204, 421, '***', 412)
ytitle(10, 514, 'Distance to exhaustion (m)')

xa, ya = make_axes(449, 697.5, 390.7, 626.7, [0, 250], [0, 100], xt=[0, 50, 100, 150, 200, 250],
                   yt=[0, 50, 100], xstand=4)
km(xa, ya, G_SHAM, '#7d7d7d')
km(xa, ya, G_CSMG, LRED)
txt(505, 598, 'p= 0.0002')
swatch(621, 408, DGRAY, 'Sham')
swatch(621, 432, RED, 'CSMG')
ytitle(383.5, 520, 'Remaining runners (%)')
xtitle(583, 685, 'Time to exhaustion (min)')

bar_panel(808, 965, 391.7, 627.3, [0, 250], [0, 50, 100, 150, 200, 250], None, SC_CATS, H_MEAN, H_SEM,
          [DGRAY, RED], H_DOTS, [-0.650, 1.642], 0.657, xstand=0)
sig(855, 922, 403, '***', 395)
ytitle(746, 519, 'Time to exhaustion (min)')

xa, ya = make_axes(1165.8, 1415.5, 393.3, 630, [0, 150], [0, 100], xt=[0, 50, 100, 150],
                   yt=[0, 50, 100], xstand=4)
km(xa, ya, I_SHAM, '#7d7d7d')
km(xa, ya, I_CSMG, LRED)
txt(1329.4, 589, 'p= 0.0014')
swatch(1327.7, 448.3, DGRAY, 'Sham')
swatch(1327.7, 472.3, RED, 'CSMG')
ytitle(1112.4, 519, 'Remaining runners (%)')
xtitle(1301.8, 683, 'Energy spent (J)')

bar_panel(1529.7, 1694, 393.3, 630, [0, 150], [0, 50, 100, 150], None, SC_CATS, J_MEAN, J_SEM,
          [DGRAY, RED], J_DOTS, [-0.681, 1.666], 0.657, xstand=1)
sig(1584, 1649, 400, '**', 391.7)
ytitle(1468.3, 516, 'Energy spent (J)')

# ============================ ROW 3 ============================
bar_panel(89, 258, 755.7, 992.7, [0, 0.025], [0, 0.005, 0.010, 0.015, 0.020, 0.025],
          ['0.000', '0.005', '0.010', '0.015', '0.020', '0.025'], SC_CATS, K_MEAN, K_SEM,
          [DGRAY, RED], K_DOTS, [-0.669, 1.649], 0.645)
sig(127.4, 210.7, 781, '**', 771.7)
ytitle(11.5, 876, '<i>Maoa/Gapdh</i>')

bar_panel(449, 617, 753.3, 990, [0, 80], [0, 20, 40, 60, 80], None, SC_CATS, L_MEAN, L_SEM,
          [DGRAY, RED], L_DOTS, [-0.662, 1.655], 0.648)
sig(491, 578.6, 767.7, '*', 760)
ytitle(384.6, 881, 'Dopamine (ng/g)')

xa, ya = bar_panel(809.3, 996, 753.3, 989.3, [-2, 8], [-2, 0, 2, 4, 6, 8], None, ['', '', ''],
                   M_MEAN, M_SEM, [DGRAY, RED, LGRAY], M_DOTS, [-0.65, 2.684], 0.666, maxw=34)
shapes.append(dict(type='line', xref=xa + ' domain', yref=ya, x0=0, x1=1, y0=0, y1=0,
                   line=dict(color='black', width=2, dash='dot')))
sig(854, 906.7, 755, '*', 746.7)
txt(822.7, 1014, '<b>Abx:</b>', xanchor='right')
txt(822.7, 1038.3, '<b>Capsaicin:</b>', xanchor='right')
for i, cx in enumerate((845.7, 901.7, 957.7)):
    txt(cx, 1014, M_ABX[i])
    txt(cx, 1038.3, M_CAPS[i])
ytitle(743.3, 878.3, 'Mean 470 nm (% ΔF/F) 0-2min')

xa, ya = make_axes(1165.8, 1413.8, 755, 992.7, [0, 400], [0, 80], xt=[0, 100, 200, 300, 400],
                   yt=[0, 20, 40, 60, 80], xstand=0)
fitline(xa, ya, N_DOPA, N_FIT)
fig.add_trace(go.Scatter(x=N_DOPA, y=N_DIST, mode='markers', marker=dict(color=RED, size=9),
                         xaxis=xa, yaxis=ya, cliponaxis=False, hoverinfo='skip'))
txt(1176.7, 780, 'p =0.0357', xanchor='left')
txt(1176.7, 803.3, 'R =0.4398', xanchor='left')
ytitle(1111, 870, 'Distance (km/2 days)')
xtitle(1299, 1040, 'Dopamine (ng/g)')

bar_panel(1529.7, 1687.6, 752.7, 989.3, [0, 600], [0, 200, 400, 600], None, O_CATS, O_MEAN, O_SEM,
          [DGRAY, RED], O_DOTS, [-0.679, 1.652], 0.665, xstand=1)
sig(1574.5, 1643.4, 766, '***', 756.7)
ytitle(1468.3, 877.5, 'AUC (F340/F380)')

# ============================ ROW 4 ============================
xa, ya = make_axes(90, 338.7, 1111, 1348.3, [0, 800], [-1, 1.5], xt=[0, 200, 400, 600, 800],
                   yt=[-1, -0.5, 0, 0.5, 1, 1.5], ytt=fmt1([-1, -0.5, 0, 0.5, 1, 1.5]), xstand=-3)
lines(xa, ya, TIME_S, P_CTRL, 'rgba(150,150,150,0.55)')
lines(xa, ya, TIME_S, P_EXGF, 'rgba(235,110,120,0.55)')
lines(xa, ya, TIME_S, P_GF, 'rgba(60,180,60,0.55)')
lines(xa, ya, TIME_S, [P_CTRL_MEAN], DGRAY, 3.2)
lines(xa, ya, TIME_S, [P_EXGF_MEAN], '#e06873', 3.2)
lines(xa, ya, TIME_S, [P_GF_MEAN], '#1a9e1a', 3.2)
arrow(xa, 300, 1328, 1345)
swatch(248.6, 1283.3, DGRAY, 'Control')
swatch(248.6, 1307.3, '#17a317', 'GF')
swatch(248.6, 1331.7, '#ee8a92', 'ex-GF')
ytitle(10.3, 1224, 'F340/380')
xtitle(230.8, 1390, 'Time (s)')

bar_panel(447.8, 640, 1111, 1346.7, [0, 600], [0, 200, 400, 600], None, Q_CATS, Q_MEAN, Q_SEM,
          ['#b5aeae', GREEN, PINK], Q_DOTS, [-0.672, 2.641], 0.664, maxw=34)
sig(481, 539.6, 1125, '****', 1115)
sig(542.5, 601.6, 1125, '***', 1115)
ytitle(384.6, 1235, 'AUC (F340/F380)')

xa, ya = make_axes(808.3, 1056.7, 1111, 1349, [0, 800], [-1, 3], xt=[0, 200, 400, 600, 800],
                   yt=[-1, 0, 1, 2, 3], ytt=fmt1([-1, 0, 1, 2, 3]), xstand=-3)
lines(xa, ya, TIME_S, R_LINES, 'rgba(227,0,27,0.38)')
arrow(xa, 300, 1328, 1345)
ytitle(746.3, 1224, 'F340/380')
xtitle(940, 1389.5, 'Time (s)')

S_RANK = list(range(len(S_AUC)))
xa, ya = make_axes(1165.8, 1370.7, 1111, 1347.7, [-0.6, len(S_AUC) - 1], [0, 800],
                   yt=[0, 200, 400, 600, 800])
fig.add_trace(go.Scatter(x=S_RANK, y=S_AUC, mode='markers', marker=dict(color=RED, size=8),
                         xaxis=xa, yaxis=ya, cliponaxis=False, hoverinfo='skip'))
ytitle(1111.3, 1235, 'AUC (F340/F380)')
xtitle(1274.3, 1376.7, 'Mice (ranked)')

xa, ya = make_axes(1527.4, 1775.5, 1112.3, 1347.7, [0, 800], [0, 150], xt=[0, 200, 400, 600, 800],
                   yt=[0, 50, 100, 150], xstand=-2)
fig.add_trace(go.Scatter(x=T_AUC, y=T_DIST, mode='markers', marker=dict(color=RED, size=8),
                         xaxis=xa, yaxis=ya, cliponaxis=False, hoverinfo='skip'))
fitline(xa, ya, T_AUC, T_FIT)
txt(1672, 1165, 'R=0.2376', xanchor='left')
txt(1672, 1188.3, 'p=0.0234', xanchor='left')
ytitle(1468.3, 1226.7, 'Distance (km/3 days)')
xtitle(1666.4, 1393.3, 'AUC (F340/F380)')

# ============================ ROW 5 ============================
xa, ya = make_axes(89, 337.5, 1453.3, 1689, [0, 800], [0, 150], xt=[0, 200, 400, 600, 800],
                   yt=[0, 50, 100, 150], xstand=-3)
fig.add_trace(go.Scatter(x=U_AUC, y=U_DOPA, mode='markers', marker=dict(color=RED, size=8),
                         xaxis=xa, yaxis=ya, cliponaxis=False, hoverinfo='skip'))
fitline(xa, ya, U_AUC, U_FIT)
txt(238, 1482.3, 'R=0.2017', xanchor='left')
txt(238, 1506.7, 'p=0.0551', xanchor='left')
ytitle(8.6, 1568, 'Dopamine (ng/g)')
xtitle(237, 1730.5, 'AUC (F340/F380)')

xa, ya = make_axes(449.5, 697.5, 1453.3, 1690, [0, 800], [-1, 2], xt=[0, 200, 400, 600, 800],
                   yt=[-1, -0.5, 0, 0.5, 1, 1.5, 2], ytt=fmt1([-1, -0.5, 0, 0.5, 1, 1.5, 2]), xstand=-3)
lines(xa, ya, TIME_S, V_PINK, 'rgba(240,120,130,0.55)')
lines(xa, ya, TIME_S, V_GRAY, 'rgba(120,120,120,0.75)')
lines(xa, ya, TIME_S, [V_RED_MID], 'rgba(227,0,27,0.6)', 1.8)
lines(xa, ya, TIME_S, V_GRAY_MID, '#5a5a5a', 1.8)
lines(xa, ya, TIME_S, V_RED, LRED, 4)
lines(xa, ya, TIME_S, [V_CTRL], '#555555', 2.6)
arrow(xa, 300, 1675, 1690)
txt(525, 1450, 'Neo-', color=RED, xanchor='left')
txt(525, 1474, 'mycin', color=RED, xanchor='left')
seg(580, 1480, 614, 1526.7, color='black', width=1.2)
txt(487, 1569, 'Control', color='#666')
seg(519.5, 1567.7, 574, 1545.7, color='black', width=1.2)
seg(663, 1560.7, 663, 1597.3, color='#e05560', width=1.5)
txt(669, 1566.7, 'other', color='#e05560', xanchor='left')
txt(669, 1590.7, 'Abx', color='#e05560', xanchor='left')
ytitle(383.5, 1558, 'F340/380')
xtitle(578.6, 1730.5, 'Time (s)')

xa, ya = make_axes(808.3, 1057.9, 1454.3, 1690, [0, 180], [-0.5, 1.5], xt=[0, 30, 60, 90, 120, 150, 180],
                   yt=[-0.5, 0, 0.5, 1, 1.5], ytt=fmt1([-0.5, 0, 0.5, 1, 1.5]), xstand=-3)
lines(xa, ya, TIME_W, W_LINES, 'rgba(40,40,40,0.85)')
lines(xa, ya, TIME_W, [W_PBS], '#1515e6', 4.5)
lines(xa, ya, TIME_W, [W_CAPS], LRED, 3.2)
arrow(xa, 60, 1675, 1690)
txt(870, 1484, 'Capsaicin', color=RED)
seg(866.8, 1498, 925.8, 1568.3, color='black', width=1.2)
txt(1000.5, 1661.7, 'PBS, DMSO', color='#2a2aa0')
seg(940, 1651.7, 923, 1625, color='black', width=1.2)
ytitle(746.3, 1558, 'F340/380')
xtitle(943, 1730.5, 'Time (s)')

xa, ya = make_axes(1167, 1415, 1449.3, 1686.7, [0, 800], [-1, 1.5], xt=[0, 200, 400, 600, 800],
                   yt=[-1, -0.5, 0, 0.5, 1, 1.5], ytt=fmt1([-1, -0.5, 0, 0.5, 1, 1.5]), xstand=-3)
lines(xa, ya, TIME_S, X_CTRL, 'rgba(120,120,120,0.6)')
lines(xa, ya, TIME_S, X_OEA, 'rgba(240,130,140,0.75)')
lines(xa, ya, TIME_S, X_CAPS, 'rgba(30,160,30,0.8)')
lines(xa, ya, TIME_S, [X_OEA_MEAN], '#e88088', 4.5)
lines(xa, ya, TIME_S, [X_CAPS_MEAN], '#1ea01e', 4)
lines(xa, ya, TIME_S, [X_CTRL_MEAN], DGRAY, 3.2)
arrow(xa, 300, 1663, 1678)
swatch(1188.8, 1446.7, DGRAY, 'Control')
swatch(1188.8, 1471, '#17a317', 'Capsaicin')
swatch(1188.8, 1495, '#ee8a92', 'OEA')
ytitle(1111.3, 1559, 'F340/380')
xtitle(1297, 1730.5, 'Time (s)')

bar_panel(1527.4, 1699.7, 1455, 1690, [0, 400], [0, 100, 200, 300, 400], None, Y_CATS, Y_MEAN, Y_SEM,
          [DGRAY, '#e05866', '#46b446'], Y_DOTS, [-0.689, 2.644], 0.667, maxw=30, xstand=-3,
          xfont=dict(family=SANS, size=15.5, color='#111'))
seg(1570.5, 1470, 1668, 1470, color='#666', width=1.8)
seg(1570.5, 1475.5, 1618.7, 1475.5, color='#666', width=1.8)
txt(1593.5, 1464, '****', size=15, color='#555')
ytitle(1468.3, 1572.5, 'AUC (F340/F380)')

# ============================ PANEL LETTERS ============================
LETTERS = [('a', 9, 14), ('b', 386, 14), ('c', 747, 14), ('d', 1111, 14), ('e', 1470, 14),
           ('f', 9, 370), ('g', 383, 373), ('h', 746, 370), ('i', 1111, 370), ('j', 1472, 374),
           ('k', 9, 725), ('l', 383, 725), ('m', 746, 725), ('n', 1111, 727), ('o', 1470, 727),
           ('p', 9, 1084), ('q', 383, 1084), ('r', 746, 1083), ('s', 1111, 1084), ('t', 1470, 1083),
           ('u', 9, 1436), ('v', 383, 1438), ('w', 746, 1437), ('x', 1111, 1437), ('y', 1472, 1437)]
for s, x, y in LETTERS:
    txt(x, y, '<b>' + s + '</b>', size=24, color='black')

L['shapes'] = shapes
L['annotations'] = annots
fig.update_layout(**L)
fig.write_html("out.html", config={'displayModeBar': False},
               post_script="document.body.style.margin='0px';document.body.style.padding='0px';"
                           "document.documentElement.style.overflow='hidden';")
